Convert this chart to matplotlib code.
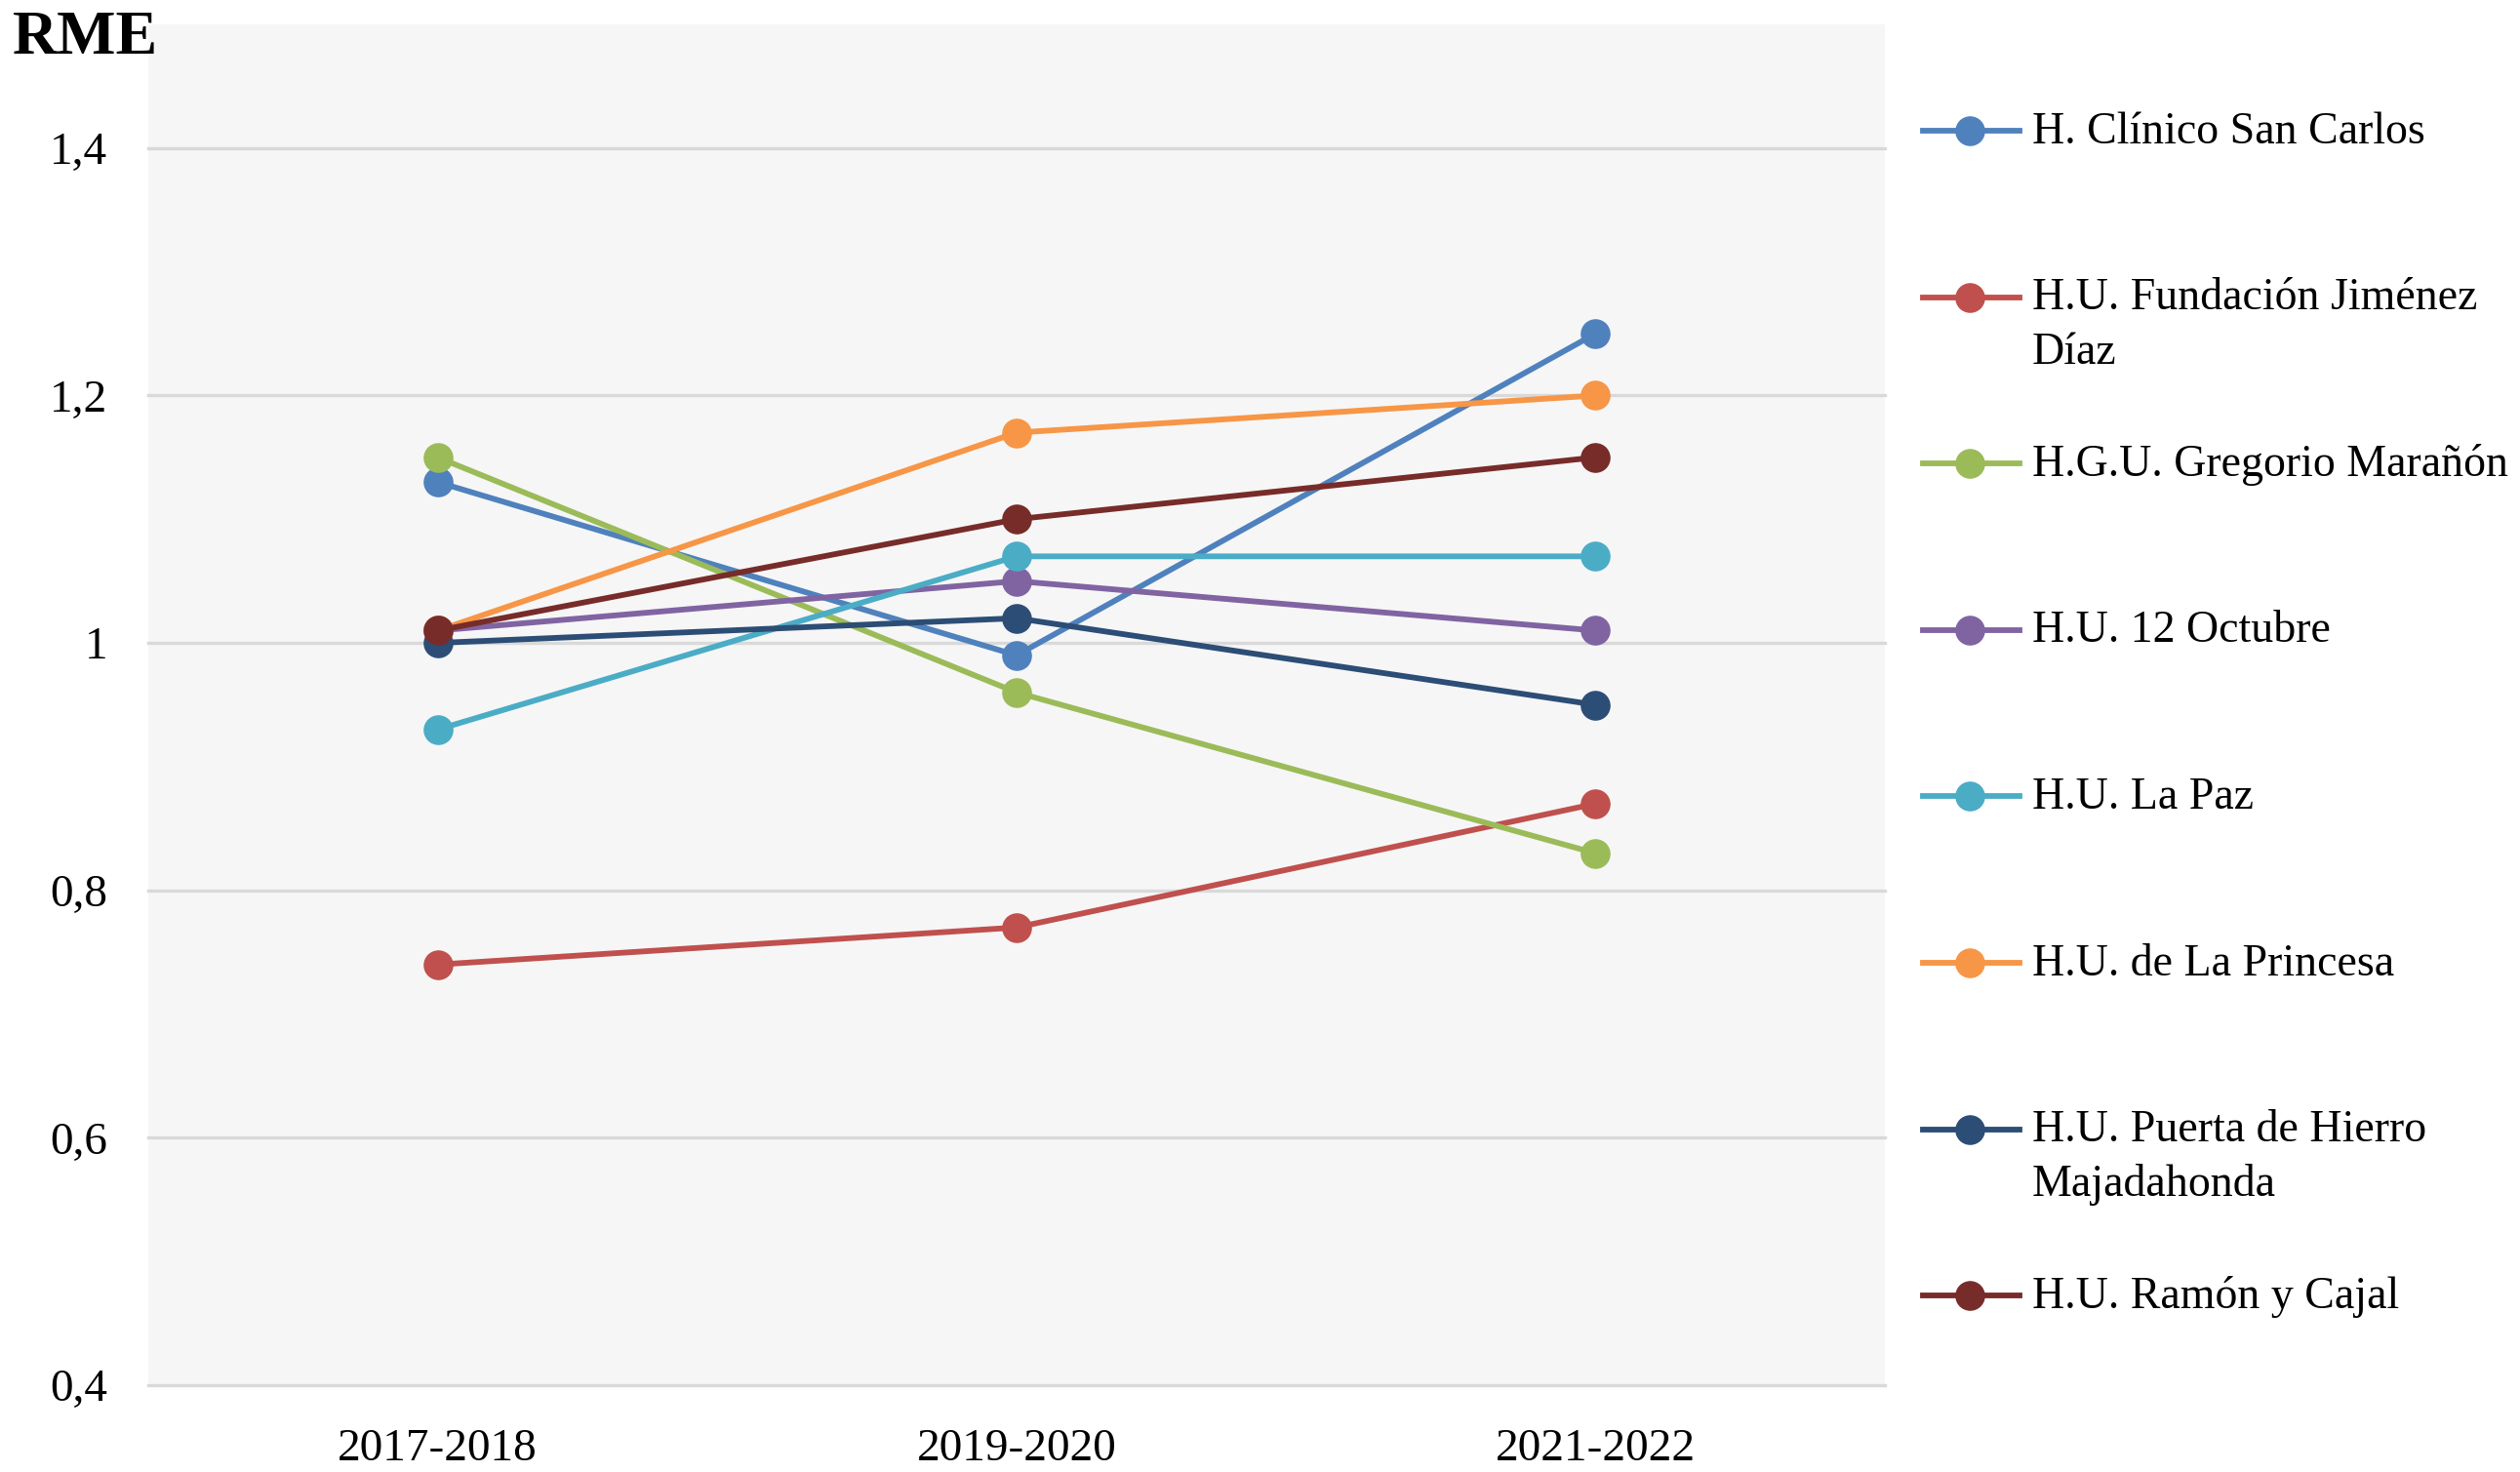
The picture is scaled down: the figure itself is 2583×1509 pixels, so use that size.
import matplotlib
matplotlib.use("Agg")
import matplotlib.pyplot as plt
from matplotlib.lines import Line2D

plt.rcParams['font.family'] = ['Liberation Serif', 'DejaVu Serif']

periodos = ['2017-2018', '2019-2020', '2021-2022']

hospitales = ['H. Clínico San Carlos',
              'H.U. Fundación Jiménez\nDíaz',
              'H.G.U. Gregorio Marañón',
              'H.U. 12 Octubre',
              'H.U. La Paz',
              'H.U. de La Princesa',
              'H.U. Puerta de Hierro\nMajadahonda',
              'H.U. Ramón y Cajal']

clinico = [1.13, 0.99, 1.25]
jimenez_diaz = [0.74, 0.77, 0.87]
maranon = [1.15, 0.96, 0.83]
octubre = [1.01, 1.05, 1.01]
la_paz = [0.93, 1.07, 1.07]
princesa = [1.01, 1.17, 1.20]
puerta_hierro = [1.00, 1.02, 0.95]
ramon_cajal = [1.01, 1.10, 1.15]

series = [clinico, jimenez_diaz, maranon, octubre, la_paz, princesa,
          puerta_hierro, ramon_cajal]
colores = ['#4F81BD', '#C0504D', '#9BBB59', '#8064A2', '#4BACC6',
           '#F79646', '#2C4D75', '#772C2A']

W, H = 2583, 1509
fig = plt.figure(figsize=(W / 100, H / 100), dpi=100)
ax = fig.add_axes([152 / W, 1 - 1420 / H, (1932 - 152) / W, (1420 - 25) / H])
ax.set_facecolor('#F6F6F6')

x = list(range(len(periodos)))
for vals, c in zip(series, colores):
    ax.plot(x, vals, color=c, lw=4.2, marker='o', ms=21, zorder=3,
            solid_capstyle='round')

ax.set_xlim(-0.5, 2.5)
ax.set_ylim(0.4, 1.5)
ax.set_xticks(x)
ax.set_xticklabels(periodos, fontsize=34)
yt = [0.4, 0.6, 0.8, 1.0, 1.2, 1.4]
ax.set_yticks(yt)
ax.set_yticklabels(['0,4', '0,6', '0,8', '1', '1,2', '1,4'], fontsize=34)
ax.tick_params(length=0)
ax.tick_params(axis='y', pad=30)
ax.tick_params(axis='x', pad=32)
for t in yt:
    ax.axhline(t, color='#D9D9D9', lw=2.4, zorder=1, clip_on=False)
for s in ax.spines.values():
    s.set_visible(False)

fig.text(13 / W, 1 - 40 / H, 'RME', fontsize=46, fontweight='bold',
         ha='left', va='center')

# leyenda manual (la línea alineada con la primera línea del texto)
y0 = 134
paso = 170.6
for i, (nombre, c) in enumerate(zip(hospitales, colores)):
    yy = 1 - (y0 + i * paso) / H
    fig.add_artist(Line2D([1971 / W, 2070 / W], [yy, yy], color=c, lw=4.2,
                          transform=fig.transFigure))
    fig.add_artist(Line2D([2019 / W], [yy], color=c, marker='o', ms=21,
                          transform=fig.transFigure))
    fig.text(2083 / W, yy + 20 / H, nombre, fontsize=33, ha='left', va='top',
             linespacing=1.4)

fig.savefig('out.png', dpi=100, facecolor='white')
